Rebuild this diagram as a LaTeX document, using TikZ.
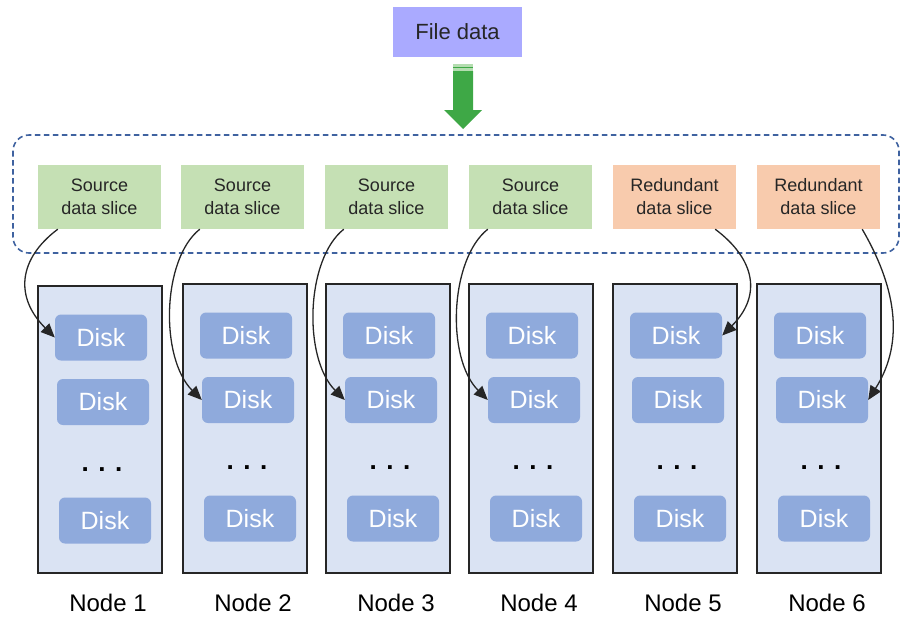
\documentclass[tikz,border=0pt]{standalone}
\usepackage{fontspec}
\setmainfont{Liberation Sans}
\usetikzlibrary{arrows.meta}
\definecolor{filefill}{HTML}{AAAAFF}
\definecolor{srcfill}{HTML}{C5E0B4}
\definecolor{redfill}{HTML}{F8CBAD}
\definecolor{nodefill}{HTML}{DAE3F3}
\definecolor{diskfill}{HTML}{8FAADC}
\definecolor{groupline}{HTML}{3F62A0}
\definecolor{arrowgreen}{HTML}{3EA846}
\definecolor{palegreen}{HTML}{B4DDB0}
\definecolor{ink}{HTML}{262626}
\tikzset{
  filebox/.style={fill=filefill, minimum width=129pt, minimum height=50pt, inner sep=0pt,
    font=\fontsize{22}{26}\selectfont, text=ink},
  slicebox/.style={minimum width=123pt, minimum height=64pt, inner sep=0pt, align=center,
    font=\fontsize{18}{23}\selectfont, text=ink},
  srcslice/.style={slicebox, fill=srcfill},
  redslice/.style={slicebox, fill=redfill},
  server/.style={draw=ink, line width=1.3pt, fill=nodefill, minimum width=124pt, inner sep=0pt},
  disk/.style={fill=diskfill, rounded corners=6pt, minimum width=92pt, minimum height=46pt,
    inner sep=0pt, text=white, font=\fontsize{25}{28}\selectfont},
  dots/.style={font=\fontsize{26}{28}\bfseries\selectfont, text=black, inner sep=0pt},
  lbl/.style={font=\fontsize{24}{28}\selectfont, text=black, inner sep=0pt},
  link/.style={draw=ink, line width=1.3pt, -{Triangle[length=14pt,width=12pt]}},
  group/.style={draw=groupline, line width=1.6pt, dash pattern=on 5.5pt off 3.5pt, rounded corners=16pt}
}
\begin{document}
\begin{tikzpicture}[x=1pt,y=-1pt]
\useasboundingbox (0,0) rectangle (902,619);

% file data source
\node[filebox] (file) at (457.5,32) {File data};

% block arrow pointing down into the slice group
\fill[palegreen] (453,64) rectangle (473,67);
\fill[arrowgreen] (453,67) rectangle (473,68);
\fill[palegreen] (453,68) rectangle (473,71);
\fill[arrowgreen] (453,71) -- (473,71) -- (473,110) -- (482,110) -- (463,129)
  -- (444,110) -- (453,110) -- cycle;

% dashed group around the slices
\draw[group] (13,135) rectangle (899,253);

% data slices
\foreach \i/\L in {1/38,2/181,3/325,4/469}
  \node[srcslice] (s\i) at (\L+61.5,197) {Source\\data slice};
\foreach \i/\L in {5/613,6/757}
  \node[redslice] (s\i) at (\L+61.5,197) {Redundant\\data slice};

% storage nodes with their disks
\foreach \i/\L/\T in {1/38/286,2/183/284,3/326/284,4/469/284,5/613/284,6/757/284}{
  \pgfmathsetmacro{\dy}{\T-284}
  \node[server, minimum height=573-\T] (n\i) at (\L+62,{(\T+573)/2}) {};
  \node[disk] (d\i a) at (\L+63,335.5+\dy) {Disk};
  \node[disk] (d\i b) at (\L+65,400+\dy) {Disk};
  \node[dots] (dd\i) at (\L+64,468+\dy) {. . .};
  \node[disk] (d\i c) at (\L+67,518.5+\dy) {Disk};
  \node[lbl] (lab\i) at (\L+70,603) {Node \i};
}

% slice placement
\draw[link] ([xshift=20pt]s1.south west) .. controls +(-40,30) and +(-40,-40) .. (d1a.west);
\foreach \i in {2,3,4}
  \draw[link] ([xshift=19pt]s\i.south west) .. controls +(-38,30) and +(-42,-42) .. (d\i b.west);
\draw[link] ([xshift=-21pt]s5.south east) .. controls +(40,30) and +(40,-40) .. (d5a.east);
\draw[link] ([xshift=-18pt]s6.south east) .. controls +(32,55) and +(38,-60) .. (d6b.east);
\end{tikzpicture}
\end{document}
